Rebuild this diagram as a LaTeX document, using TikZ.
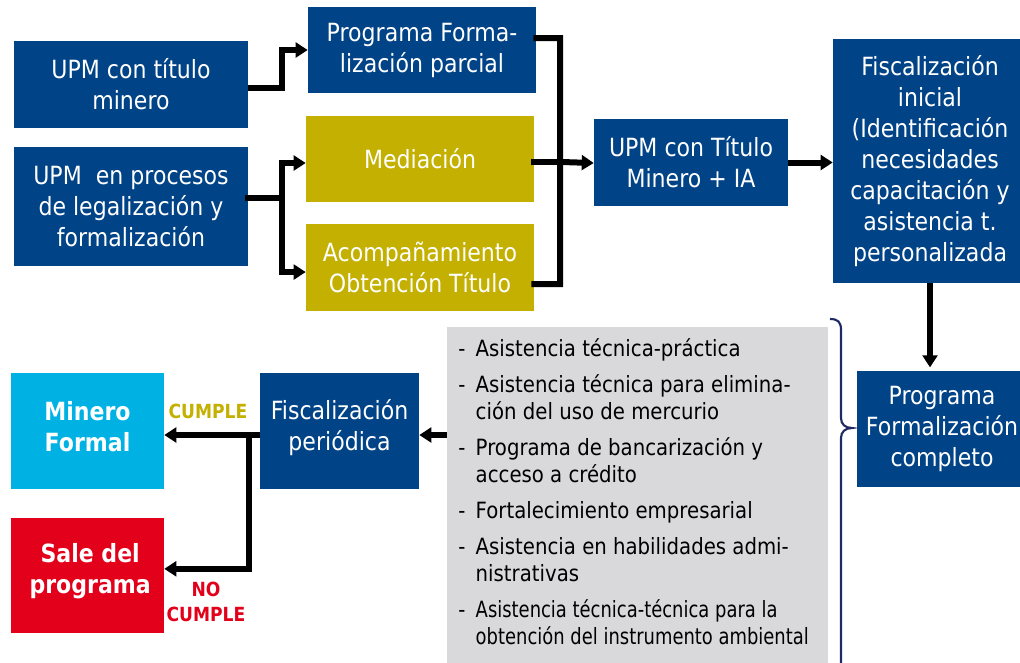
\documentclass[tikz,border=0pt]{standalone}
\usepackage{fontspec}
\setmainfont{DejaVu Sans}[FakeStretch=0.88]
\usetikzlibrary{arrows.meta}
\definecolor{dblue}{RGB}{0,67,134}
\definecolor{mustard}{RGB}{196,176,0}
\definecolor{lblue}{RGB}{0,178,228}
\definecolor{cred}{RGB}{226,0,26}
\definecolor{lgray}{RGB}{217,217,219}
\definecolor{navy}{RGB}{31,42,100}
\newcommand{\dashit}[1]{\makebox[13.1pt][l]{-}#1}
\newcommand{\contit}[1]{\hspace*{13.1pt}#1}
\begin{document}
\begin{tikzpicture}[x=0.75pt,y=-0.75pt,
  box/.style 2 args={rectangle, draw=none, text=white, align=center,
    minimum width=#1*0.75pt, minimum height=#2*0.75pt, inner sep=0pt,
    font=\fontsize{18.8}{23.25}\selectfont},
  bluebox/.style={fill=dblue},
  yelbox/.style={fill=mustard},
  boldlab/.style={text=white, align=center, inner sep=0pt, yshift=3.2pt,
    font=\fontsize{18.8}{23.25}\selectfont\bfseries},
  normlab/.style={text=white, align=center, inner sep=0pt, yshift=2.5pt,
    font=\fontsize{18.8}{23.25}\selectfont},
  ln/.style={line width=4.5pt, line join=miter, line cap=rect},
  arr/.style={line width=4.5pt, line join=miter, -{Triangle[length=9pt,width=11pt]}},
  lab/.style={font=\fontsize{14.6}{18.75}\selectfont\bfseries, align=center}
]
\useasboundingbox (0,0) rectangle (1020,662);
\fill[white] (0,0) rectangle (1020,662);

% boxes
\node[box={234}{87},bluebox] (A) at (131,84.5) {UPM con título\\minero};
\node[box={234}{119},bluebox] (B) at (131,206.5) {UPM\ \ en procesos\\de legalización y\\formalización};
\node[box={228}{86},bluebox] (C) at (422,50) {Programa Forma-\\lización parcial};
\node[box={228}{86},yelbox] (Med) at (420,159) {Mediación};
\node[box={228}{87},yelbox] (Acomp) at (420,267.5) {Acompañamiento\\Obtención Título};
\node[box={194}{87},bluebox] (IA) at (691,162.5) {UPM con Título\\Minero + IA};
\node[box={194}{244},bluebox] (FI) at (930,161) {Fiscalización\\inicial\\(Identificación\\necesidades\\capacitación y\\asistencia t.\\personalizada};
\node[box={170}{116},bluebox] (PC) at (942,429) {Programa\\Formalización\\completo};
\node[box={381}{340},fill=lgray] (G) at (637.5,497) {};
\node[box={159}{116},bluebox,
  label={[normlab]center:{Fiscalización\\periódica}}] (FP) at (339.5,431) {};
\node[box={153}{116},fill=lblue,
  label={[boldlab]center:{Minero\\Formal}}] (MF) at (87.5,431) {};
\node[box={153}{115},fill=cred,
  label={[boldlab,xshift=2pt]center:{Sale del\\programa}}] (SP) at (87.5,575.5) {};

% list text
\node[anchor=north west, align=left, inner sep=0pt,
      font=\fontsize{16.8}{20.25}\selectfont] (L) at (458,338) {%
\dashit{Asistencia técnica-práctica}\\[6.75pt]
\dashit{Asistencia técnica para elimina-}\\
\contit{ción del uso de mercurio}\\[6.75pt]
\dashit{Programa de bancarización y}\\
\contit{acceso a crédito}\\[6.75pt]
\dashit{Fortalecimiento empresarial}\\[6.75pt]
\dashit{Asistencia en habilidades admi-}\\
\contit{nistrativas}\\[6.75pt]
\dashit{\scalebox{0.91}[1]{Asistencia técnica-técnica para la}}\\
\contit{\scalebox{0.91}[1]{obtención del instrumento ambiental}}};

% brace
\draw[navy, line width=1.6pt]
  (830,319) .. controls (838,319) and (841,322) .. (841,330)
  -- (841,418) .. controls (841,424) and (845,428) .. (852,428)
  .. controls (845,428) and (841,432) .. (841,438)
  -- (841,665);

% connectors top
\draw[arr] ([yshift=-2.6pt]A.east) -- ++(34,0) |- (C.west);
\draw[ln] ([yshift=6.4pt]B.east) -- ++(34,0) coordinate (bj);
\draw[arr] (bj) |- ([yshift=-3pt]Med.west);
\draw[arr] (bj) |- ([yshift=-3.4pt]Acomp.west);

\coordinate (cb) at (560,284);
\draw[ln] ([yshift=9pt]C.east) -| (cb) -- ([yshift=-12.4pt]Acomp.east);
\draw[ln] ([yshift=-2.2pt]Med.east) -- ++(26,0);
\draw[arr] ([yshift=-2.2pt]Med.east -| cb) -- ([yshift=-0.4pt]IA.west);
\draw[arr] (IA.east) -- (IA.east -| FI.west);
\draw[arr] (FI.south) -- ([yshift=2.5pt]FI.south |- PC.north);

% bottom connectors
\draw[arr] ([yshift=-3pt]G.west |- FP.east) -- ([yshift=-3pt]FP.east);
\draw[arr] ([yshift=-3pt]FP.west) -- ([yshift=-3pt]MF.east);
\draw[arr] ([xshift=-8.25pt,yshift=-3pt]FP.west) |- ([yshift=5pt]SP.east);

% labels
\node[lab, text=mustard] (cum) at (208,411) {CUMPLE};
\node[lab, text=cred] (nocum) at (206,601.5) {NO\\CUMPLE};
\end{tikzpicture}
\end{document}
